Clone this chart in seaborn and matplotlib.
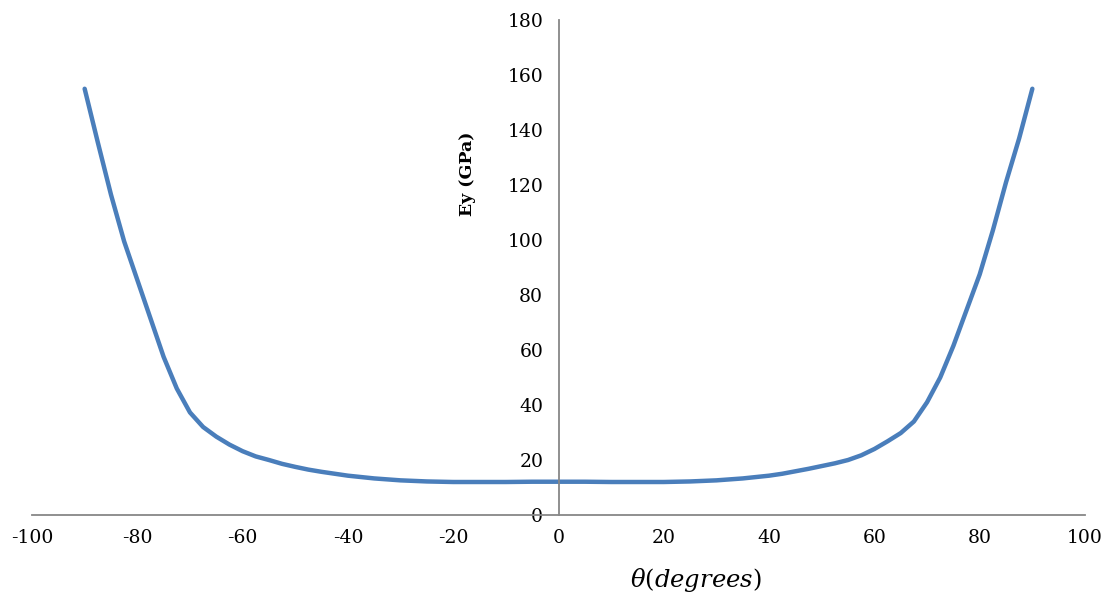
import numpy as np
import pandas as pd
import matplotlib
matplotlib.use("Agg")
import matplotlib.pyplot as plt
import seaborn as sns

# angle (degrees) and Ey (GPa)
theta = [-90, -87.5, -85, -82.5, -80, -77.5, -75, -72.5, -70, -67.5, -65, -62.5, -60, -57.5, -55, -52.5,
         -50, -47.5, -45, -42.5, -40, -35, -30, -25, -20, -15, -10, -5,
         0, 5, 10, 15, 20, 25, 30, 35, 40, 42.5, 45, 47.5, 50, 52.5, 55, 57.5, 60, 62.5, 65, 67.5,
         70, 72.5, 75, 77.5, 80, 82.5, 85, 87.5, 90]
ey = [155.0, 135.5, 116.5, 99.5, 85.5, 71.5, 57.5, 46.0, 37.3, 32.0, 28.5, 25.6, 23.2, 21.3, 20.0, 18.6,
      17.5, 16.5, 15.7, 15.0, 14.3, 13.3, 12.6, 12.2, 12.0, 12.0, 12.0, 12.1,
      12.1, 12.1, 12.0, 12.0, 12.0, 12.2, 12.6, 13.3, 14.3, 15.0, 15.9, 16.8, 17.8, 18.8, 20.0, 21.7, 24.0, 26.8, 29.8, 34.0,
      41.0, 50.0, 61.5, 74.5, 87.5, 103.5, 121.0, 137.0, 155.0]

x_ticks = [-100, -80, -60, -40, -20, 0, 20, 40, 60, 80, 100]
y_ticks = [0, 20, 40, 60, 80, 100, 120, 140, 160, 180]

df = pd.DataFrame({"theta": theta, "Ey": ey})

sns.set_style("white")
plt.rcParams["font.family"] = ["DejaVu Serif"]
plt.rcParams["mathtext.fontset"] = "dejavuserif"

fig = plt.figure(figsize=(11.09, 5.94), dpi=100)
ax = fig.add_axes([32 / 1109, 1 - 515 / 594, (1085 - 32) / 1109, (515 - 20) / 594])

sns.lineplot(data=df, x="theta", y="Ey", ax=ax, color="#4A7EBB", linewidth=3.2,
             solid_capstyle="round", solid_joinstyle="round")

ax.set_xlim(-100, 100)
ax.set_ylim(0, 180)
ax.set_xticks(x_ticks)
ax.set_yticks(y_ticks)
ax.set_xticklabels([str(v) for v in x_ticks])
ax.set_yticklabels([str(v) for v in y_ticks])

axis_grey = "#878787"
for side in ["top", "right"]:
    ax.spines[side].set_visible(False)
ax.spines["left"].set_position(("data", 0))
ax.spines["bottom"].set_position(("data", 0))
for side in ["left", "bottom"]:
    ax.spines[side].set_color(axis_grey)
    ax.spines[side].set_linewidth(1.3)
ax.tick_params(axis="both", which="major", direction="out", length=5, width=1.3,
               color=axis_grey, labelcolor="black", labelsize=13.5, pad=5)
ax.tick_params(axis="y", pad=6)

ax.set_ylabel("Ey (GPa)", fontsize=12.5, fontweight="bold", color="black")
ax.yaxis.set_label_coords(-15.6, 124, transform=ax.transData)
ax.set_xlabel(r"$\theta(degrees)$", fontsize=17.5, color="black")
ax.xaxis.set_label_coords(26, -18.5, transform=ax.transData)

fig.savefig("out.png", dpi=100)
